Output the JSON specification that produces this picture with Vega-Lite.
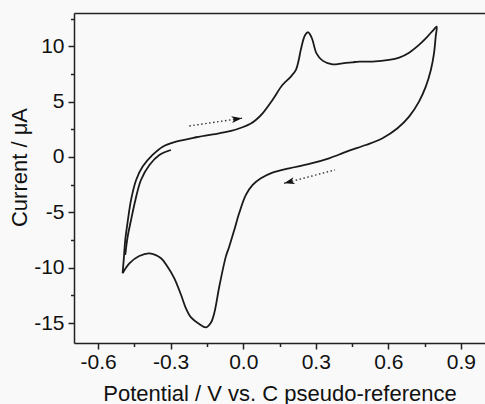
{
  "$schema": "https://vega.github.io/schema/vega-lite/v6.json",
  "width": 411,
  "height": 330,
  "autosize": "none",
  "padding": {"left": 74, "top": 13, "right": 0, "bottom": 61},
  "background": "#f9f9f9",
  "config": {
    "view": {"stroke": null},
    "font": "Liberation Sans",
    "axis": {"grid": false, "domainColor": "#222", "tickColor": "#222", "labelColor": "#111", "titleColor": "#111", "domainWidth": 1.5, "tickWidth": 1.5, "titleFontWeight": "normal", "labelFlush": false, "labelOverlap": false}
  },
  "datasets": {
    "cv": [
      {"seg": "a", "i": 1, "V": -0.299, "I": 0.63},
      {"seg": "a", "i": 2, "V": -0.347, "I": 0.18},
      {"seg": "a", "i": 3, "V": -0.388, "I": -0.72},
      {"seg": "a", "i": 4, "V": -0.423, "I": -2.08},
      {"seg": "a", "i": 5, "V": -0.446, "I": -3.88},
      {"seg": "a", "i": 6, "V": -0.464, "I": -5.69},
      {"seg": "a", "i": 7, "V": -0.478, "I": -7.2},
      {"seg": "a", "i": 8, "V": -0.488, "I": -8.85},
      {"seg": "b", "i": 1, "V": -0.499, "I": -10.5},
      {"seg": "b", "i": 2, "V": -0.494, "I": -9.2},
      {"seg": "b", "i": 3, "V": -0.488, "I": -7.5},
      {"seg": "b", "i": 4, "V": -0.477, "I": -5.69},
      {"seg": "b", "i": 5, "V": -0.464, "I": -3.88},
      {"seg": "b", "i": 6, "V": -0.443, "I": -2.08},
      {"seg": "b", "i": 7, "V": -0.416, "I": -0.87},
      {"seg": "b", "i": 8, "V": -0.375, "I": 0.18},
      {"seg": "b", "i": 9, "V": -0.333, "I": 0.93},
      {"seg": "b", "i": 10, "V": -0.278, "I": 1.38},
      {"seg": "b", "i": 11, "V": -0.195, "I": 1.78},
      {"seg": "b", "i": 12, "V": -0.099, "I": 2.14},
      {"seg": "b", "i": 13, "V": -0.05, "I": 2.35},
      {"seg": "b", "i": 14, "V": -0.003, "I": 2.68},
      {"seg": "b", "i": 15, "V": 0.03, "I": 3.0},
      {"seg": "b", "i": 16, "V": 0.052, "I": 3.34},
      {"seg": "b", "i": 17, "V": 0.08, "I": 3.94},
      {"seg": "b", "i": 18, "V": 0.121, "I": 5.15},
      {"seg": "b", "i": 19, "V": 0.162, "I": 6.5},
      {"seg": "b", "i": 20, "V": 0.197, "I": 7.26},
      {"seg": "b", "i": 21, "V": 0.218, "I": 7.86},
      {"seg": "b", "i": 22, "V": 0.23, "I": 8.8},
      {"seg": "b", "i": 23, "V": 0.238, "I": 9.67},
      {"seg": "b", "i": 24, "V": 0.256, "I": 11.02},
      {"seg": "b", "i": 25, "V": 0.269, "I": 11.26},
      {"seg": "b", "i": 26, "V": 0.284, "I": 10.72},
      {"seg": "b", "i": 27, "V": 0.303, "I": 9.36},
      {"seg": "b", "i": 28, "V": 0.328, "I": 8.7},
      {"seg": "b", "i": 29, "V": 0.369, "I": 8.37},
      {"seg": "b", "i": 30, "V": 0.41, "I": 8.46},
      {"seg": "b", "i": 31, "V": 0.452, "I": 8.55},
      {"seg": "b", "i": 32, "V": 0.479, "I": 8.61},
      {"seg": "b", "i": 33, "V": 0.534, "I": 8.61},
      {"seg": "b", "i": 34, "V": 0.603, "I": 8.76},
      {"seg": "b", "i": 35, "V": 0.645, "I": 8.97},
      {"seg": "b", "i": 36, "V": 0.686, "I": 9.42},
      {"seg": "b", "i": 37, "V": 0.727, "I": 10.12},
      {"seg": "b", "i": 38, "V": 0.762, "I": 10.87},
      {"seg": "b", "i": 39, "V": 0.789, "I": 11.53},
      {"seg": "b", "i": 40, "V": 0.8, "I": 11.77},
      {"seg": "b", "i": 41, "V": 0.796, "I": 10.87},
      {"seg": "b", "i": 42, "V": 0.789, "I": 9.36},
      {"seg": "b", "i": 43, "V": 0.776, "I": 7.86},
      {"seg": "b", "i": 44, "V": 0.755, "I": 6.35},
      {"seg": "b", "i": 45, "V": 0.727, "I": 5.0},
      {"seg": "b", "i": 46, "V": 0.686, "I": 3.64},
      {"seg": "b", "i": 47, "V": 0.638, "I": 2.59},
      {"seg": "b", "i": 48, "V": 0.576, "I": 1.69},
      {"seg": "b", "i": 49, "V": 0.507, "I": 1.08},
      {"seg": "b", "i": 50, "V": 0.438, "I": 0.57},
      {"seg": "b", "i": 51, "V": 0.397, "I": 0.22},
      {"seg": "b", "i": 52, "V": 0.355, "I": -0.12},
      {"seg": "b", "i": 53, "V": 0.273, "I": -0.63},
      {"seg": "b", "i": 54, "V": 0.19, "I": -1.02},
      {"seg": "b", "i": 55, "V": 0.121, "I": -1.42},
      {"seg": "b", "i": 56, "V": 0.073, "I": -1.93},
      {"seg": "b", "i": 57, "V": 0.039, "I": -2.53},
      {"seg": "b", "i": 58, "V": 0.011, "I": -3.43},
      {"seg": "b", "i": 59, "V": -0.017, "I": -5.09},
      {"seg": "b", "i": 60, "V": -0.037, "I": -6.59},
      {"seg": "b", "i": 61, "V": -0.058, "I": -8.1},
      {"seg": "b", "i": 62, "V": -0.072, "I": -9.0},
      {"seg": "b", "i": 63, "V": -0.099, "I": -11.7},
      {"seg": "b", "i": 64, "V": -0.12, "I": -14.12},
      {"seg": "b", "i": 65, "V": -0.134, "I": -14.97},
      {"seg": "b", "i": 66, "V": -0.154, "I": -15.39},
      {"seg": "b", "i": 67, "V": -0.182, "I": -15.09},
      {"seg": "b", "i": 68, "V": -0.216, "I": -14.49},
      {"seg": "b", "i": 69, "V": -0.237, "I": -13.67},
      {"seg": "b", "i": 70, "V": -0.257, "I": -12.47},
      {"seg": "b", "i": 71, "V": -0.285, "I": -10.96},
      {"seg": "b", "i": 72, "V": -0.313, "I": -9.91},
      {"seg": "b", "i": 73, "V": -0.34, "I": -9.15},
      {"seg": "b", "i": 74, "V": -0.388, "I": -8.7},
      {"seg": "b", "i": 75, "V": -0.43, "I": -8.94},
      {"seg": "b", "i": 76, "V": -0.471, "I": -9.6},
      {"seg": "b", "i": 77, "V": -0.499, "I": -10.5}
    ],
    "arrows": [
      {"arrow": "fwd", "pos": "tail", "V": -0.223, "I": 2.8},
      {"arrow": "fwd", "pos": "tip", "V": -0.005, "I": 3.5},
      {"arrow": "rev", "pos": "tail", "V": 0.38, "I": -1.17},
      {"arrow": "rev", "pos": "tip", "V": 0.169, "I": -2.38}
    ]
  },
  "layer": [
    {
      "data": {"name": "cv"},
      "mark": {"type": "line", "color": "#1a1a1a", "strokeWidth": 1.8, "strokeJoin": "round", "interpolate": "catmull-rom"},
      "encoding": {
        "x": {"field": "V", "type": "quantitative", "scale": {"domain": [-0.7, 1.0], "nice": false, "zero": false},
          "axis": {"orient": "bottom", "values": [-0.6, -0.3, 0, 0.3, 0.6, 0.9], "labelExpr": "(datum.value < 0 ? '-' : '') + format(abs(datum.value), '.1f')", "title": "Potential / V vs. C pseudo-reference", "labelFontSize": 21, "titleFontSize": 22, "tickSize": 6, "labelPadding": 2, "titleY": 57, "titleBaseline": "alphabetic"}},
        "y": {"field": "I", "type": "quantitative", "scale": {"domain": [-16.8, 13], "nice": false, "zero": false},
          "axis": {"orient": "left", "values": [-15, -10, -5, 0, 5, 10], "labelExpr": "(datum.value < 0 ? '-' : '') + format(abs(datum.value), 'd')", "title": "Current / μA", "labelFontSize": 21, "titleFontSize": 22, "tickSize": 6, "labelPadding": 4, "titleX": -48, "titleY": 154, "titleAngle": -90, "titleAlign": "center", "titleBaseline": "alphabetic"}},
        "detail": {"field": "seg"},
        "order": {"field": "i", "type": "quantitative"}
      }
    },
    {
      "data": {"name": "arrows"},
      "mark": {"type": "line", "color": "#333", "strokeWidth": 1.4, "strokeDash": [1.5, 2.5]},
      "encoding": {
        "x": {"field": "V", "type": "quantitative", "scale": {"domain": [-0.7, 1.0], "nice": false, "zero": false},
          "axis": {"orient": "bottom", "values": [-0.45, -0.15, 0.15, 0.45, 0.75], "labels": false, "title": null, "domain": false, "tickSize": 3.5}},
        "y": {"field": "I", "type": "quantitative", "scale": {"domain": [-16.8, 13], "nice": false, "zero": false},
          "axis": {"orient": "left", "values": [-12.5, -7.5, -2.5, 2.5, 7.5, 12.5], "labels": false, "title": null, "domain": false, "tickSize": 3.5}},
        "detail": {"field": "arrow"}
      }
    },
    {
      "data": {"name": "arrows"},
      "transform": [{"filter": "datum.arrow == 'fwd' && datum.pos == 'tip'"}],
      "mark": {"type": "point", "filled": true, "color": "#111", "opacity": 1, "size": 110, "angle": -8, "shape": "M 0 0 L -2 -0.65 L -1.5 0 L -2 0.65 Z"},
      "encoding": {
        "x": {"field": "V", "type": "quantitative", "scale": {"domain": [-0.7, 1.0], "nice": false, "zero": false},
          "axis": {"orient": "top", "values": [], "ticks": false, "labels": false, "title": null}},
        "y": {"field": "I", "type": "quantitative", "scale": {"domain": [-16.8, 13], "nice": false, "zero": false}, "axis": null}
      }
    },
    {
      "data": {"name": "arrows"},
      "transform": [{"filter": "datum.arrow == 'rev' && datum.pos == 'tip'"}],
      "mark": {"type": "point", "filled": true, "color": "#111", "opacity": 1, "size": 110, "angle": 165, "shape": "M 0 0 L -2 -0.65 L -1.5 0 L -2 0.65 Z"},
      "encoding": {
        "x": {"field": "V", "type": "quantitative", "scale": {"domain": [-0.7, 1.0], "nice": false, "zero": false}, "axis": null},
        "y": {"field": "I", "type": "quantitative", "scale": {"domain": [-16.8, 13], "nice": false, "zero": false}, "axis": null}
      }
    }
  ],
  "resolve": {"axis": {"x": "independent", "y": "independent"}}
}
